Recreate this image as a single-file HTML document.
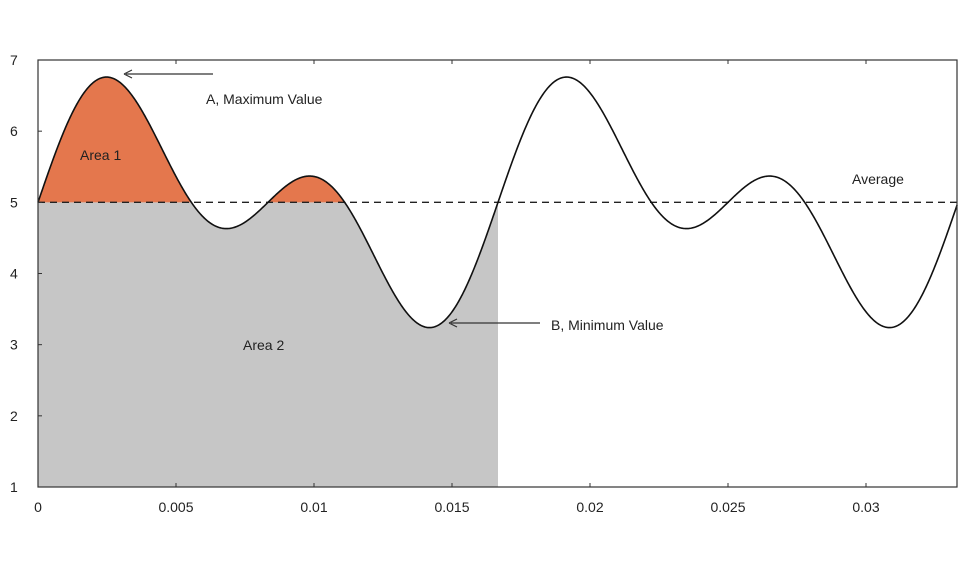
<!DOCTYPE html>
<html><head><style>
body{margin:0;background:#fff;}
svg text{font-family:"Liberation Sans",sans-serif;font-size:14px;fill:#222;}
</style></head><body>
<svg id="s" width="974" height="560" xmlns="http://www.w3.org/2000/svg">
<g id="g"></g>
</svg>
<script>
var X0=38,X1=957,Y7=60,Y1=487;
function sx(t){return X0+t/0.005*138;}
function sy(v){return Y1-(v-1)*(Y1-Y7)/6;}
function f(t){var th=2*Math.PI*60*t;return 5+Math.sin(th)+Math.sin(2*th);}
var T=1/60,N=400,h='';
// gray
var p='M'+sx(0)+','+sy(1);
for(var i=0;i<=N;i++){var t=T*i/N;p+=' L'+sx(t).toFixed(2)+','+sy(Math.min(5,f(t))).toFixed(2);}
p+=' L'+sx(T)+','+sy(1)+'Z';
h+='<path d="'+p+'" fill="#c6c6c6"/>';
// orange
p='M'+sx(0)+','+sy(5);
for(var i=0;i<=N;i++){var t=T*i/N;p+=' L'+sx(t).toFixed(2)+','+sy(Math.max(5,f(t))).toFixed(2);}
p+=' L'+sx(T)+','+sy(5)+'Z';
h+='<path d="'+p+'" fill="#e4774d"/>';
// dashed
h+='<line x1="'+X0+'" x2="'+X1+'" y1="'+sy(5)+'" y2="'+sy(5)+'" stroke="#222" stroke-width="1.3" stroke-dasharray="7,5"/>';
// curve
p='';var M=1200,tm=0.0333;
for(var i=0;i<=M;i++){var t=tm*i/M;p+=(i?' L':'M')+sx(t).toFixed(2)+','+sy(f(t)).toFixed(2);}
h+='<path d="'+p+'" fill="none" stroke="#111" stroke-width="1.6"/>';
// frame
h+='<rect x="'+X0+'" y="'+Y7+'" width="'+(X1-X0)+'" height="'+(Y1-Y7)+'" fill="none" stroke="#333" stroke-width="1.2"/>';
// ticks
for(var v=1;v<=7;v++){var y=sy(v);h+='<line x1="'+X0+'" x2="'+(X0+4)+'" y1="'+y+'" y2="'+y+'" stroke="#333"/>';h+='<text x="10" y="'+(y+5)+'">'+v+'</text>';}
var xl=['0','0.005','0.01','0.015','0.02','0.025','0.03'];
for(var k=0;k<7;k++){var x=sx(k*0.005);h+='<line x1="'+x+'" x2="'+x+'" y1="'+Y7+'" y2="'+(Y7+4)+'" stroke="#333"/><line x1="'+x+'" x2="'+x+'" y1="'+Y1+'" y2="'+(Y1-4)+'" stroke="#333"/>';h+='<text x="'+x+'" y="512" text-anchor="middle">'+xl[k]+'</text>';}
// annotations
h+='<line x1="213" y1="74" x2="126" y2="74" stroke="#333" stroke-width="1.2"/><path d="M124,74 l8,-4 M124,74 l8,4" stroke="#333" stroke-width="1.2" fill="none"/>';
h+='<text x="206" y="104" font-size="15">A, Maximum Value</text>';
h+='<line x1="540" y1="323" x2="451" y2="323" stroke="#333" stroke-width="1.2"/><path d="M449,323 l8,-4 M449,323 l8,4" stroke="#333" stroke-width="1.2" fill="none"/>';
h+='<text x="551" y="330" font-size="15">B, Minimum Value</text>';
h+='<text x="852" y="184" font-size="15">Average</text>';
h+='<text x="80" y="160" font-size="15">Area 1</text>';
h+='<text x="243" y="350" font-size="15">Area 2</text>';
document.getElementById('g').innerHTML=h;
</script>
</body></html>
